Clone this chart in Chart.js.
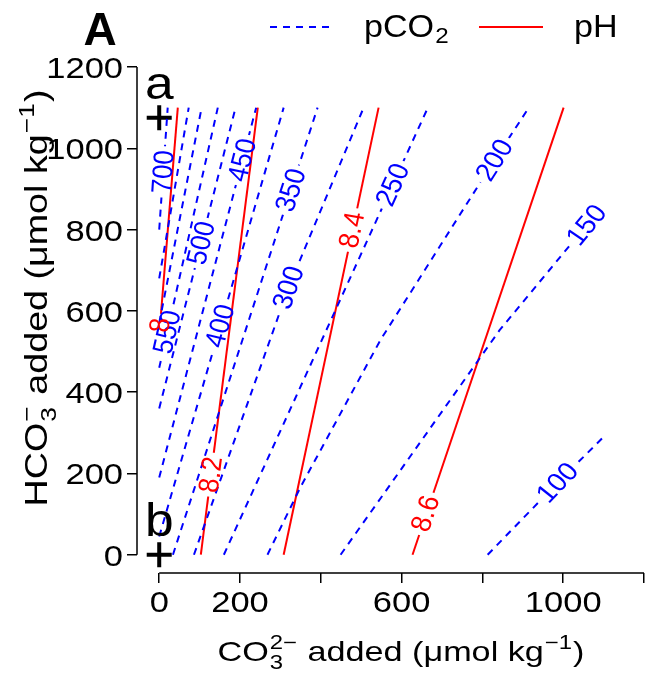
<!DOCTYPE html>
<html>
<head>
<meta charset="utf-8">
<script src="https://cdn.jsdelivr.net/npm/chart.js@4.4.0/dist/chart.umd.min.js"></script>
<style>
  html, body { margin: 0; padding: 0; background: #fff; }
</style>
</head>
<body>
<canvas id="chart" width="645" height="676"></canvas>
<script>
// axis ticks (R drops the labels that would collide)
const xTicks = [0, 200, 400, 600, 800, 1000, 1200];
const xTickLabels = ['0', '200', '', '600', '', '1000', ''];
const yTicks = [0, 200, 400, 600, 800, 1000, 1200];

// pCO2 contours, points as [CO3 added, HCO3 added]
const pco2Levels = [700, 650, 600, 550, 500, 450, 400, 350, 300, 250, 200, 150, 100];
const pco2Lines = [
  [[0, 800], [21, 1100]],
  [[0, 680], [73, 1100]],
  [[0, 570], [105, 1100]],
  [[0, 460], [145, 1100]],
  [[0, 360], [189, 1100]],
  [[0, 190], [240, 1100]],
  [[0, 45], [308, 1100]],
  [[34, 0], [392, 1100]],
  [[86, 0], [320, 657], [506, 1100]],
  [[160, 0], [665, 1100]],
  [[268, 0], [350, 167], [548, 529], [830, 971], [915, 1100]],
  [[449, 0], [843, 553], [1058, 811], [1100, 868]],
  [[813, 0], [986, 177], [1100, 290]]
];
// where the contour labels sit (null = no label)
const pco2LabelAt = [[10, 942], null, null, [20, 548], [104, 767], [206, 971], [151, 563],
  [326, 897], [320, 657], [578, 910], [830, 971], [1058, 811], [986, 177]];

// pH contours
const phLevels = ['8', '8.2', '8.4', '8.6'];
const phLines = [
  [[0, 540], [46, 1100]],
  [[103, 0], [244, 1100]],
  [[308, 0], [543, 1100]],
  [[627, 0], [1001, 1100]]
];
const phLabelAt = [[2, 565], [128, 197], [477, 799], [659, 101]];

// the two starting points
const startPts = [[0, 1075], [0, 0]];
const startNames = ['a', 'b'];

const BLUE = '#0000ff';
const RED = '#ff0000';
const FONT = '"Liberation Sans", Arial, Helvetica, sans-serif';
const LABEL_SIZE = 26;

const datasets = [];
pco2Lines.forEach((pts, i) => {
  datasets.push({
    label: 'pCO2 ' + pco2Levels[i],
    data: pts.map(p => ({ x: p[0], y: p[1] })),
    showLine: true, borderColor: BLUE, borderWidth: 2, borderDash: [7, 6],
    pointRadius: 0,
    labelAt: pco2LabelAt[i], labelText: String(pco2Levels[i]), labelColor: BLUE
  });
});
phLines.forEach((pts, i) => {
  datasets.push({
    label: 'pH ' + phLevels[i],
    data: pts.map(p => ({ x: p[0], y: p[1] })),
    showLine: true, borderColor: RED, borderWidth: 2,
    pointRadius: 0,
    labelAt: phLabelAt[i], labelText: phLevels[i], labelColor: RED
  });
});
datasets.push({
  label: 'start',
  data: startPts.map(p => ({ x: p[0], y: p[1] })),
  showLine: false, pointStyle: 'cross', pointRadius: 12.5,
  pointBorderWidth: 4, pointBorderColor: '#000', pointBackgroundColor: '#000'
});

// position + angle of a contour label, taken from the line through the scales
function labelGeom(chart, ds, sx) {
  const xs = chart.scales.x, ys = chart.scales.y;
  const lx = ds.labelAt[0], ly = ds.labelAt[1];
  const pts = ds.data;
  let i = 0;
  while (i < pts.length - 2 && pts[i + 1].y < ly) i++;
  const a = pts[i], b = pts[i + 1];
  const dx = xs.getPixelForValue(b.x) - xs.getPixelForValue(a.x);
  const dy = ys.getPixelForValue(b.y) - ys.getPixelForValue(a.y);
  return { px: xs.getPixelForValue(lx), py: ys.getPixelForValue(ly), ang: Math.atan2(dy, dx / sx) };
}

const LSX = 1.1; // label stretch

const contourLabels = {
  id: 'contourLabels',
  beforeDatasetDraw(chart, args) {
    const ds = chart.data.datasets[args.index];
    if (!ds.labelAt) return;
    const ctx = chart.ctx;
    const g = labelGeom(chart, ds, LSX);
    ctx.font = LABEL_SIZE + 'px ' + FONT;
    const hw = ctx.measureText(ds.labelText).width / 2 + 4;
    const hh = LABEL_SIZE * 0.42;
    const m = ctx.getTransform();
    ctx.save();
    ctx.beginPath();
    ctx.rect(0, 0, chart.width, chart.height);
    ctx.translate(g.px, g.py);
    ctx.scale(LSX, 1);
    ctx.rotate(g.ang);
    ctx.rect(-hw, -hh, 2 * hw, 2 * hh);
    ctx.setTransform(m);
    ctx.clip('evenodd');
  },
  afterDatasetDraw(chart, args) {
    const ds = chart.data.datasets[args.index];
    if (ds.labelAt) chart.ctx.restore();
  },
  afterDatasetsDraw(chart) {
    const ctx = chart.ctx;
    chart.data.datasets.forEach(ds => {
      if (!ds.labelAt) return;
      const g = labelGeom(chart, ds, LSX);
      ctx.save();
      ctx.translate(g.px, g.py);
      ctx.scale(LSX, 1);
      ctx.rotate(g.ang);
      ctx.font = LABEL_SIZE + 'px ' + FONT;
      ctx.fillStyle = ds.labelColor;
      ctx.textAlign = 'center';
      ctx.textBaseline = 'middle';
      ctx.fillText(ds.labelText, 0, 1);
      ctx.restore();
    });
  }
};

// text with sub/superscripts, left edge at x, baseline at 0
function richWidth(ctx, runs, size) {
  let w = 0;
  runs.forEach(r => {
    if (r.t !== undefined) {
      ctx.font = size + 'px ' + FONT;
      w += ctx.measureText(r.t).width;
    } else {
      ctx.font = (size * 0.7) + 'px ' + FONT;
      w += Math.max(r.sup ? ctx.measureText(r.sup).width : 0, r.sub ? ctx.measureText(r.sub).width : 0) + size * 0.06;
    }
  });
  return w;
}
function drawRich(ctx, runs, size, x) {
  runs.forEach(r => {
    if (r.t !== undefined) {
      ctx.font = size + 'px ' + FONT;
      ctx.fillText(r.t, x, 0);
      x += ctx.measureText(r.t).width;
    } else {
      ctx.font = (size * 0.7) + 'px ' + FONT;
      let w = 0;
      if (r.sup) { ctx.fillText(r.sup, x + size * 0.03, -size * 0.42); w = ctx.measureText(r.sup).width; }
      if (r.sub) { ctx.fillText(r.sub, x + size * 0.03, size * 0.3); w = Math.max(w, ctx.measureText(r.sub).width); }
      x += w + size * 0.06;
    }
  });
}

const xTitleRuns = [{ t: 'CO' }, { sup: '2\u2212', sub: '3' }, { t: ' added (\u03bcmol kg' }, { sup: '\u22121' }, { t: ')' }];
const yTitleRuns = [{ t: 'HCO' }, { sup: '\u2212', sub: '3' }, { t: ' added (\u03bcmol kg' }, { sup: '\u22121' }, { t: ')' }];

const decorations = {
  id: 'decorations',
  afterDraw(chart) {
    const ctx = chart.ctx;
    const xs = chart.scales.x, ys = chart.scales.y;
    const area = chart.chartArea;

    // axis lines from first to last tick, R style
    ctx.save();
    ctx.strokeStyle = '#000';
    ctx.lineWidth = 1.5;
    ctx.beginPath();
    ctx.moveTo(area.left, ys.getPixelForValue(yTicks[0]));
    ctx.lineTo(area.left, ys.getPixelForValue(yTicks[yTicks.length - 1]));
    ctx.moveTo(xs.getPixelForValue(xTicks[0]), area.bottom);
    ctx.lineTo(xs.getPixelForValue(xTicks[xTicks.length - 1]), area.bottom);
    ctx.stroke();

    // tick labels
    ctx.fillStyle = '#000';
    ctx.font = '30px ' + FONT;
    ctx.textBaseline = 'alphabetic';
    xTicks.forEach((v, i) => {
      if (!xTickLabels[i]) return;
      ctx.save();
      ctx.translate(xs.getPixelForValue(v), area.bottom + 39);
      ctx.scale(1.15, 1);
      ctx.textAlign = 'center';
      ctx.fillText(xTickLabels[i], 0, 0);
      ctx.restore();
    });
    yTicks.forEach(v => {
      ctx.save();
      ctx.translate(area.left - 14, ys.getPixelForValue(v) + 11);
      ctx.scale(1.15, 1);
      ctx.textAlign = 'right';
      ctx.fillText(String(v), 0, 0);
      ctx.restore();
    });

    // axis titles
    ctx.textAlign = 'left';
    let size = 28;
    let w = richWidth(ctx, xTitleRuns, size);
    ctx.save();
    ctx.translate(401, 661);
    ctx.scale(367 / w, 1);
    drawRich(ctx, xTitleRuns, size, -w / 2);
    ctx.restore();

    size = 31;
    w = richWidth(ctx, yTitleRuns, size);
    ctx.save();
    ctx.translate(47, 298);
    ctx.rotate(-Math.PI / 2);
    ctx.scale(417 / w, 1);
    drawRich(ctx, yTitleRuns, size, -w / 2);
    ctx.restore();

    // start point names
    ctx.font = '46px ' + FONT;
    ctx.textAlign = 'center';
    chart.getDatasetMeta(chart.data.datasets.length - 1).data.forEach((pt, i) => {
      ctx.save();
      ctx.translate(pt.x, pt.y - 19);
      ctx.scale(1.12, 1);
      ctx.fillText(startNames[i], 0, 0);
      ctx.restore();
    });

    // panel letter
    ctx.font = 'bold 46px ' + FONT;
    ctx.fillText('A', 100, 45);

    // legend
    ctx.lineWidth = 2;
    ctx.strokeStyle = BLUE;
    ctx.setLineDash([7, 6]);
    ctx.beginPath();
    ctx.moveTo(270, 27); ctx.lineTo(331, 27);
    ctx.stroke();
    ctx.setLineDash([]);
    ctx.strokeStyle = RED;
    ctx.beginPath();
    ctx.moveTo(479, 27); ctx.lineTo(543, 27);
    ctx.stroke();
    ctx.textAlign = 'left';
    ctx.save();
    ctx.translate(364, 37);
    ctx.scale(1.1, 1);
    ctx.font = '31px ' + FONT;
    ctx.fillText('pCO', 0, 0);
    const pw = ctx.measureText('pCO').width;
    ctx.font = '22px ' + FONT;
    ctx.fillText('2', pw + 1, 6);
    ctx.restore();
    ctx.save();
    ctx.translate(574, 37);
    ctx.scale(1.1, 1);
    ctx.font = '31px ' + FONT;
    ctx.fillText('pH', 0, 0);
    ctx.restore();
    ctx.restore();
  }
};

const axisCommon = {
  type: 'linear',
  ticks: { display: false },
  grid: { drawOnChartArea: false, drawTicks: true, tickLength: 10, color: '#000', lineWidth: 1.5 },
  border: { display: false }
};

new Chart(document.getElementById('chart'), {
  type: 'scatter',
  data: { datasets: datasets },
  options: {
    responsive: false,
    animation: false,
    devicePixelRatio: 1,
    layout: { autoPadding: false, padding: { left: 127, right: 1, top: 67, bottom: 93 } },
    plugins: { legend: { display: false }, tooltip: { enabled: false } },
    scales: {
      x: Object.assign({}, axisCommon, {
        min: -55, max: 1200,
        afterBuildTicks: s => { s.ticks = xTicks.map(v => ({ value: v })); }
      }),
      y: Object.assign({}, axisCommon, {
        min: -45, max: 1200,
        afterBuildTicks: s => { s.ticks = yTicks.map(v => ({ value: v })); }
      })
    }
  },
  plugins: [contourLabels, decorations]
});
</script>
</body>
</html>
